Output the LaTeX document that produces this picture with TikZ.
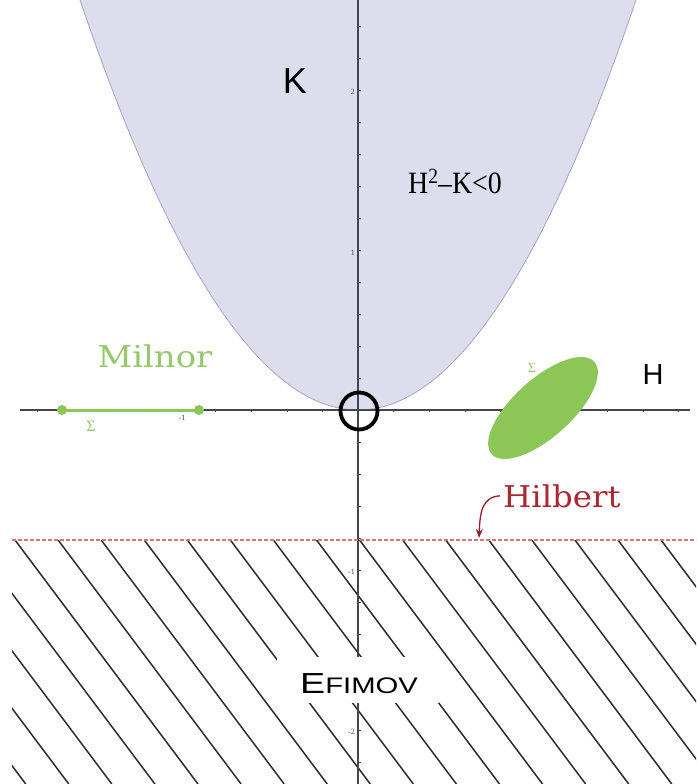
\documentclass[tikz,border=0pt]{standalone}
\usepackage{fontspec}
\newfontfamily\sansA{Liberation Sans}
\newfontfamily\serifA{Liberation Serif}
\newfontfamily\serifB{DejaVu Serif}
\usetikzlibrary{arrows.meta}
\definecolor{lav}{RGB}{221,221,237}
\definecolor{lavline}{RGB}{165,165,195}
\definecolor{grn}{RGB}{140,198,86}
\definecolor{grntxt}{RGB}{150,200,110}
\definecolor{redtxt}{RGB}{170,40,50}
\definecolor{reddash}{RGB}{205,120,120}
\definecolor{axisc}{RGB}{70,70,80}
\definecolor{hatchc}{RGB}{45,45,45}
\tikzset{
  axisline/.style={draw=axisc, line width=1.1pt},
  tickmark/.style={draw=axisc, line width=0.6pt},
  ticklabel/.style={font=\serifA\fontsize{8}{8}\selectfont, text=axisc, inner sep=1pt},
  hatchline/.style={draw=hatchc, line width=1.5pt},
  bigsans/.style={font=\sansA\fontsize{36}{36}\selectfont, inner sep=0pt},
  labelserif/.style={font=\serifB\fontsize{30}{30}\selectfont, inner sep=0pt},
  sigmalabel/.style={font=\serifA\fontsize{16}{16}\selectfont, text=grntxt, inner sep=0pt},
}
\begin{document}
\begin{tikzpicture}[x=1pt,y=-1pt]
\useasboundingbox (0,0) rectangle (696,784);
\fill[white] (0,0) rectangle (696,784);
% parabola region
\fill[lav] plot[domain=-278:278, samples=120] ({358+\x},{410-53.05*(\x/100)*(\x/100)}) -- cycle;
\draw[lavline, line width=0.8pt] plot[domain=-278:278, samples=120] ({358+\x},{410-53.05*(\x/100)*(\x/100)});
% hatching
\begin{scope}
  \clip (12,540) rectangle (696,784);
  \foreach \k in {-5,...,16}{
    \draw[hatchline] ({15+43.07*\k},540) -- ++(183,244);
  }
\end{scope}
% axes
\coordinate (xl) at (20,410);
\coordinate (xr) at (690,410);
\coordinate (yt) at (358,0);
\coordinate (yb) at (358,784);
\draw[axisline] (xl) -- (xr);
\draw[axisline] (yt) -- (yb);
\foreach \k in {-9,...,9}{
  \draw[tickmark] ({358+35.6*\k},408.5) -- ++(0,3);
}
\foreach \k in {-11,...,12}{
  \draw[tickmark] (358,{410-32*\k}) -- ++(3,0);
}
\node[ticklabel, anchor=east] (t2) at (356,92) {2};
\node[ticklabel, anchor=east] (t1) at (356,253) {1};
\node[ticklabel, anchor=east, fill=white] (tm1) at (356,572) {-1};
\node[ticklabel, anchor=east, fill=white] (tm2) at (356,732) {-2};
\node[ticklabel, anchor=north] (hm1) at (182,414) {-1};
% Hilbert dashed line
\coordinate (hl) at (12,540);
\coordinate (hr) at (696,540);
\draw[reddash, line width=1.3pt, dash pattern=on 3.5pt off 2.5pt] (hl) -- (hr);
% Efimov
\node[fill=white, minimum width=162pt, minimum height=46pt, inner sep=0pt] (efbox) at (358,680) {};
\node[font=\sansA, anchor=base, xscale=1.3, inner sep=0pt] (efimov) at (359,693)
  {\fontsize{29}{29}\selectfont E\fontsize{22.5}{22.5}\selectfont FIMOV};
% parabola labels
\node[bigsans, anchor=base] (klab) at (295,93) {K};
\node[font=\sansA\fontsize{29}{29}\selectfont, anchor=base, inner sep=0pt] (hlab) at (653,384) {H};
\node[font=\serifA\fontsize{31}{31}\selectfont, anchor=base west, xscale=0.9, inner sep=0pt] (ineq) at (408,193) {H\textsuperscript{2}\kern-0.5pt–K<0};
% origin circle
\node[draw=black, line width=3.8pt, circle, minimum size=37pt, inner sep=0pt] (origin) at (359,411) {};
% Milnor
\coordinate (m1) at (62,410);
\coordinate (m2) at (199,410);
\draw[grn, line width=3pt] (m1) -- (m2);
\fill[grn] (m1) circle (5pt);
\fill[grn] (m2) circle (5pt);
\node[labelserif, text=grntxt, anchor=base, xscale=1.13] (milnor) at (155,367) {Milnor};
\node[sigmalabel] (sig1) at (91,426) {Σ};
% ellipse
\fill[grn] (543,408) ellipse[x radius=69pt, y radius=29pt, rotate=42];
\node[sigmalabel, font=\serifA\fontsize{14}{14}\selectfont] (sig2) at (532,368) {Σ};
% Hilbert label
\node[labelserif, text=redtxt, anchor=base west, xscale=1.08] (hilbert) at (503,507) {Hilbert};
\coordinate (htip) at (479,538);
\draw[redtxt!85!black, line width=1.3pt, -{Stealth[length=9pt,width=7pt]}]
  ([xshift=-3pt]hilbert.west) .. controls (482,497) and (480,512) .. (htip);
\end{tikzpicture}
\end{document}
